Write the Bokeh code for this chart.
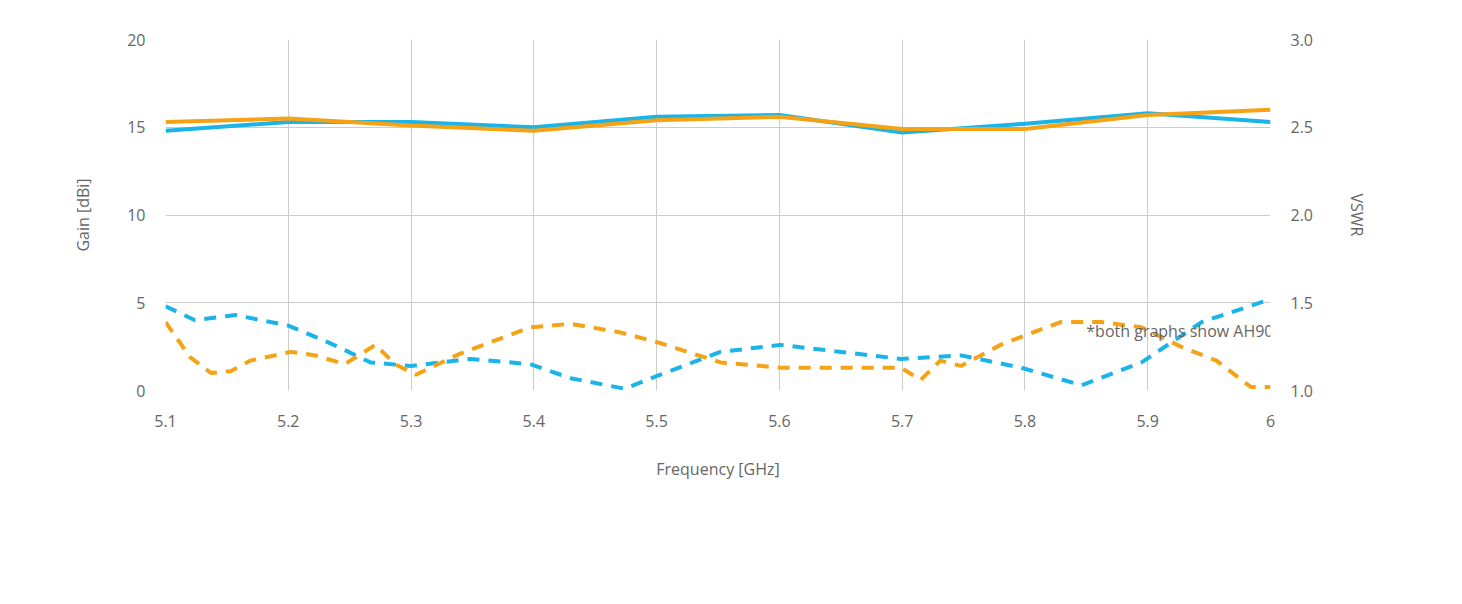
from bokeh.plotting import figure
from bokeh.models import Range1d, LinearAxis, FixedTicker, Legend, LegendItem, Label, NumeralTickFormatter
from bokeh.embed import file_html
from bokeh.resources import INLINE

freq = [5.1, 5.2, 5.3, 5.4, 5.5, 5.6, 5.7, 5.8, 5.9, 6.0]
gain_v = [14.8, 15.3, 15.3, 15.0, 15.6, 15.7, 14.7, 15.2, 15.8, 15.3]
gain_h = [15.3, 15.5, 15.1, 14.8, 15.4, 15.6, 14.9, 14.9, 15.7, 16.0]

vswr_v_f = [5.100, 5.124, 5.157, 5.200, 5.234, 5.267, 5.300, 5.348, 5.397, 5.430, 5.474, 5.503, 5.552, 5.601, 5.650, 5.699, 5.748, 5.797, 5.846, 5.895, 5.944, 6.000]
vswr_v = [1.48, 1.40, 1.43, 1.37, 1.27, 1.16, 1.14, 1.18, 1.15, 1.07, 1.01, 1.09, 1.22, 1.26, 1.22, 1.18, 1.20, 1.13, 1.03, 1.16, 1.39, 1.52]
vswr_h_f = [5.100, 5.120, 5.137, 5.153, 5.169, 5.202, 5.222, 5.246, 5.271, 5.287, 5.304, 5.340, 5.397, 5.430, 5.471, 5.503, 5.552, 5.601, 5.650, 5.699, 5.715, 5.731, 5.748, 5.780, 5.829, 5.862, 5.895, 5.927, 5.956, 5.984, 6.000]
vswr_h = [1.39, 1.19, 1.10, 1.11, 1.17, 1.22, 1.20, 1.15, 1.26, 1.15, 1.09, 1.21, 1.36, 1.38, 1.33, 1.27, 1.16, 1.13, 1.13, 1.13, 1.06, 1.17, 1.14, 1.26, 1.39, 1.39, 1.36, 1.25, 1.17, 1.02, 1.02]

x_ticks = [5.1, 5.2, 5.3, 5.4, 5.5, 5.6, 5.7, 5.8, 5.9, 6.0]
x_labels = {5.1: "5.1", 5.2: "5.2", 5.3: "5.3", 5.4: "5.4", 5.5: "5.5", 5.6: "5.6", 5.7: "5.7", 5.8: "5.8", 5.9: "5.9", 6.0: "6"}

BLUE = "#1ab4e8"
ORANGE = "#f5a214"
GREY = "#666666"
FONT = "Open Sans"

p = figure(width=1446, height=588, output_backend="svg", toolbar_location=None,
           x_range=Range1d(5.1, 6.0), y_range=Range1d(0, 20),
           min_border_left=165, min_border_right=176, min_border_top=39, min_border_bottom=198)
p.outline_line_color = None
p.extra_y_ranges = {"vswr": Range1d(1.0, 3.0)}

p.xaxis.ticker = FixedTicker(ticks=x_ticks)
p.xaxis.major_label_overrides = x_labels
p.xaxis.axis_label = "Frequency [GHz]"
p.yaxis.ticker = FixedTicker(ticks=[0, 5, 10, 15, 20])
p.yaxis.axis_label = "Gain [dBi]"
ra = LinearAxis(y_range_name="vswr", ticker=FixedTicker(ticks=[1.0, 1.5, 2.0, 2.5, 3.0]),
                formatter=NumeralTickFormatter(format="0.0"), axis_label="VSWR")
p.add_layout(ra, "right")

for ax in [p.xaxis[0], p.yaxis[0], ra]:
    ax.axis_line_color = None
    ax.major_tick_line_color = None
    ax.minor_tick_line_color = None
    ax.major_label_text_color = GREY
    ax.major_label_text_font = FONT
    ax.major_label_text_font_size = "16px"
    ax.axis_label_text_color = GREY
    ax.axis_label_text_font = FONT
    ax.axis_label_text_font_size = "16px"
    ax.axis_label_text_font_style = "normal"
p.xaxis.major_label_standoff = 18
p.xaxis.axis_label_standoff = 28
p.yaxis.major_label_standoff = 14
ra.major_label_standoff = 14
p.yaxis.axis_label_standoff = 30
ra.axis_label_standoff = 30

p.xgrid.grid_line_color = "#cccccc"
p.ygrid.grid_line_color = "#cccccc"

r1 = p.line(freq, gain_v, line_color=BLUE, line_width=4)
r2 = p.line(freq, gain_h, line_color=ORANGE, line_width=4)
r3 = p.line(vswr_v_f, vswr_v, line_color=BLUE, line_width=4, line_dash="12 9", y_range_name="vswr")
r4 = p.line(vswr_h_f, vswr_h, line_color=ORANGE, line_width=4, line_dash="12 9", y_range_name="vswr")

legend = Legend(items=[LegendItem(label="Gain V", renderers=[r1]), LegendItem(label="VSWR V", renderers=[r3]),
                       LegendItem(label="Gain H", renderers=[r2]), LegendItem(label="VSWR H", renderers=[r4])],
                ncols=2, glyph_width=72, glyph_height=20, label_width=147, label_height=20,
                label_text_font=FONT, label_text_font_size="16px",
                label_text_color=GREY, label_standoff=6, spacing=23, padding=0, margin=0,
                border_line_color=None, background_fill_alpha=0, location=(3, -150))
p.add_layout(legend, "center")

p.add_layout(Label(x=1270, y=60, x_units="screen", y_units="screen", text="*both graphs show AH90-TP with TP-ADAP-e2K",
                   text_align="right", text_baseline="middle", text_font=FONT, text_font_size="16px", text_color=GREY))

open("out.html", "w").write(file_html(p, INLINE))
